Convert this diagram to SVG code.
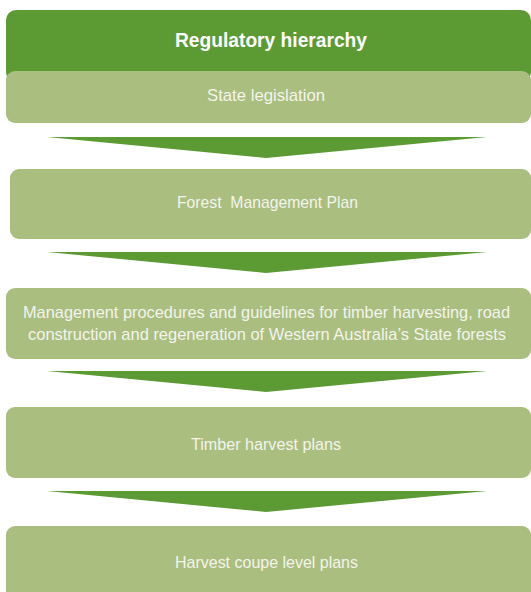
<svg xmlns="http://www.w3.org/2000/svg" width="531" height="592" viewBox="0 0 531 592">
<style>
.dark{fill:#5C9A34}
.light{fill:#A9BE7F}
.t{font-family:"Liberation Sans",Arial,sans-serif;font-size:17px;fill:#F4F4EC;text-anchor:middle}
.h{font-family:"Liberation Sans",Arial,sans-serif;font-size:20px;font-weight:bold;fill:#FFFFFF;text-anchor:middle}
</style>
<rect width="531" height="592" fill="#FFFFFF"/>
<g id="header">
<rect class="dark" x="6" y="10" width="525" height="72" rx="10"/>
<text class="h" x="271" y="47" textLength="192" lengthAdjust="spacingAndGlyphs">Regulatory hierarchy</text>
</g>
<g id="state-legislation">
<rect class="light" x="6" y="71" width="525" height="52" rx="9"/>
<text class="t" x="266" y="101" textLength="118" lengthAdjust="spacingAndGlyphs">State legislation</text>
</g>
<g id="forest-management-plan">
<rect class="light" x="10" y="169" width="521" height="70" rx="9"/>
<text class="t" x="267.5" y="208" textLength="181" lengthAdjust="spacingAndGlyphs" xml:space="preserve">Forest  Management Plan</text>
</g>
<g id="management-procedures">
<rect class="light" x="6" y="288" width="525" height="71" rx="9"/>
<text class="t" x="266.5" y="318" textLength="487" lengthAdjust="spacingAndGlyphs">Management procedures and guidelines for timber harvesting, road</text>
<text class="t" x="267" y="340" textLength="478" lengthAdjust="spacingAndGlyphs">construction and regeneration of Western Australia’s State forests</text>
</g>
<g id="timber-harvest-plans">
<rect class="light" x="6" y="407" width="525" height="71" rx="9"/>
<text class="t" x="266" y="450" textLength="150" lengthAdjust="spacingAndGlyphs">Timber harvest plans</text>
</g>
<g id="harvest-coupe-level-plans">
<rect class="light" x="6" y="526" width="525" height="80" rx="9"/>
<text class="t" x="266.5" y="568" textLength="183" lengthAdjust="spacingAndGlyphs">Harvest coupe level plans</text>
</g>
<g id="connectors">
<polygon class="dark" points="47,137 487,137 266,158"/>
<polygon class="dark" points="47,252 487,252 266,273"/>
<polygon class="dark" points="47,371 487,371 266,392"/>
<polygon class="dark" points="47,491 487,491 266,512"/>
</g>
</svg>
